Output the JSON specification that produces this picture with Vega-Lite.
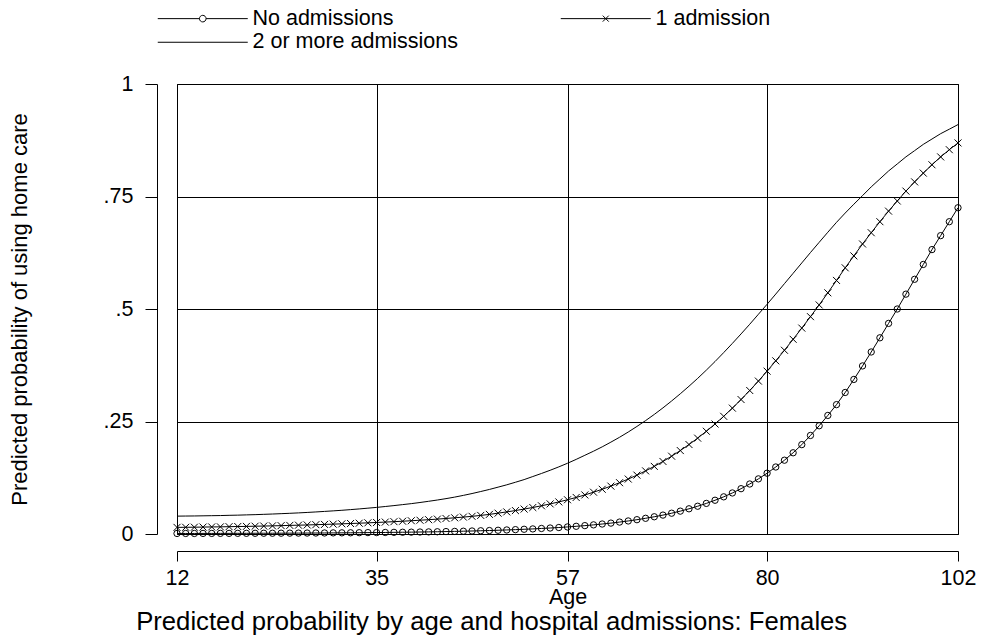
{
"$schema": "https://vega.github.io/schema/vega-lite/v6.json",
"width": 781, "height": 450,
"autosize": "none",
"padding": {"left": 177, "top": 84, "right": 24, "bottom": 108},
"background": "white",
"title": {"text": "Predicted probability by age and hospital admissions: Females", "orient": "bottom", "frame": "bounds", "anchor": "middle", "dx": -53, "font": "Liberation Sans", "fontSize": 25.7, "fontWeight": "normal", "color": "black", "offset": 2},
"data": {"values": [
{"age":12,"series":"No admissions","p":0.0012},{"age":13,"series":"No admissions","p":0.0012},{"age":14,"series":"No admissions","p":0.0012},{"age":15,"series":"No admissions","p":0.0013},{"age":16,"series":"No admissions","p":0.0013},{"age":17,"series":"No admissions","p":0.0014},{"age":18,"series":"No admissions","p":0.0014},{"age":19,"series":"No admissions","p":0.0015},{"age":20,"series":"No admissions","p":0.0015},{"age":21,"series":"No admissions","p":0.0016},
{"age":22,"series":"No admissions","p":0.0017},{"age":23,"series":"No admissions","p":0.0017},{"age":24,"series":"No admissions","p":0.0018},{"age":25,"series":"No admissions","p":0.0019},{"age":26,"series":"No admissions","p":0.0020},{"age":27,"series":"No admissions","p":0.0021},{"age":28,"series":"No admissions","p":0.0022},{"age":29,"series":"No admissions","p":0.0023},{"age":30,"series":"No admissions","p":0.0025},{"age":31,"series":"No admissions","p":0.0026},
{"age":32,"series":"No admissions","p":0.0027},{"age":33,"series":"No admissions","p":0.0029},{"age":34,"series":"No admissions","p":0.0031},{"age":35,"series":"No admissions","p":0.0032},{"age":36,"series":"No admissions","p":0.0034},{"age":37,"series":"No admissions","p":0.0037},{"age":38,"series":"No admissions","p":0.0039},{"age":39,"series":"No admissions","p":0.0041},{"age":40,"series":"No admissions","p":0.0044},{"age":41,"series":"No admissions","p":0.0047},
{"age":42,"series":"No admissions","p":0.0050},{"age":43,"series":"No admissions","p":0.0054},{"age":44,"series":"No admissions","p":0.0058},{"age":45,"series":"No admissions","p":0.0062},{"age":46,"series":"No admissions","p":0.0067},{"age":47,"series":"No admissions","p":0.0072},{"age":48,"series":"No admissions","p":0.0077},{"age":49,"series":"No admissions","p":0.0083},{"age":50,"series":"No admissions","p":0.0090},{"age":51,"series":"No admissions","p":0.0097},
{"age":52,"series":"No admissions","p":0.0105},{"age":53,"series":"No admissions","p":0.0113},{"age":54,"series":"No admissions","p":0.0123},{"age":55,"series":"No admissions","p":0.0133},{"age":56,"series":"No admissions","p":0.0144},{"age":57,"series":"No admissions","p":0.0157},{"age":58,"series":"No admissions","p":0.0171},{"age":59,"series":"No admissions","p":0.0186},{"age":60,"series":"No admissions","p":0.0203},{"age":61,"series":"No admissions","p":0.0222},
{"age":62,"series":"No admissions","p":0.0242},{"age":63,"series":"No admissions","p":0.0265},{"age":64,"series":"No admissions","p":0.0290},{"age":65,"series":"No admissions","p":0.0318},{"age":66,"series":"No admissions","p":0.0349},{"age":67,"series":"No admissions","p":0.0383},{"age":68,"series":"No admissions","p":0.0420},{"age":69,"series":"No admissions","p":0.0462},{"age":70,"series":"No admissions","p":0.0508},{"age":71,"series":"No admissions","p":0.0560},
{"age":72,"series":"No admissions","p":0.0617},{"age":73,"series":"No admissions","p":0.0680},{"age":74,"series":"No admissions","p":0.0750},{"age":75,"series":"No admissions","p":0.0826},{"age":76,"series":"No admissions","p":0.0912},{"age":77,"series":"No admissions","p":0.1007},{"age":78,"series":"No admissions","p":0.1111},{"age":79,"series":"No admissions","p":0.1225},{"age":80,"series":"No admissions","p":0.1351},{"age":81,"series":"No admissions","p":0.1489},
{"age":82,"series":"No admissions","p":0.1640},{"age":83,"series":"No admissions","p":0.1805},{"age":84,"series":"No admissions","p":0.1986},{"age":85,"series":"No admissions","p":0.2190},{"age":86,"series":"No admissions","p":0.2405},{"age":87,"series":"No admissions","p":0.2635},{"age":88,"series":"No admissions","p":0.2875},{"age":89,"series":"No admissions","p":0.3145},{"age":90,"series":"No admissions","p":0.3435},{"age":91,"series":"No admissions","p":0.3735},
{"age":92,"series":"No admissions","p":0.4045},{"age":93,"series":"No admissions","p":0.4360},{"age":94,"series":"No admissions","p":0.4680},{"age":95,"series":"No admissions","p":0.5000},{"age":96,"series":"No admissions","p":0.5330},{"age":97,"series":"No admissions","p":0.5660},{"age":98,"series":"No admissions","p":0.5990},{"age":99,"series":"No admissions","p":0.6320},{"age":100,"series":"No admissions","p":0.6630},{"age":101,"series":"No admissions","p":0.6940},
{"age":102,"series":"No admissions","p":0.7250},
{"age":12,"series":"1 admission","p":0.0147},{"age":13,"series":"1 admission","p":0.0149},{"age":14,"series":"1 admission","p":0.0151},{"age":15,"series":"1 admission","p":0.0154},{"age":16,"series":"1 admission","p":0.0157},{"age":17,"series":"1 admission","p":0.0159},{"age":18,"series":"1 admission","p":0.0163},{"age":19,"series":"1 admission","p":0.0166},{"age":20,"series":"1 admission","p":0.0169},{"age":21,"series":"1 admission","p":0.0173},
{"age":22,"series":"1 admission","p":0.0177},{"age":23,"series":"1 admission","p":0.0181},{"age":24,"series":"1 admission","p":0.0186},{"age":25,"series":"1 admission","p":0.0191},{"age":26,"series":"1 admission","p":0.0196},{"age":27,"series":"1 admission","p":0.0201},{"age":28,"series":"1 admission","p":0.0207},{"age":29,"series":"1 admission","p":0.0213},{"age":30,"series":"1 admission","p":0.0219},{"age":31,"series":"1 admission","p":0.0226},
{"age":32,"series":"1 admission","p":0.0233},{"age":33,"series":"1 admission","p":0.0240},{"age":34,"series":"1 admission","p":0.0248},{"age":35,"series":"1 admission","p":0.0256},{"age":36,"series":"1 admission","p":0.0265},{"age":37,"series":"1 admission","p":0.0274},{"age":38,"series":"1 admission","p":0.0284},{"age":39,"series":"1 admission","p":0.0295},{"age":40,"series":"1 admission","p":0.0306},{"age":41,"series":"1 admission","p":0.0318},
{"age":42,"series":"1 admission","p":0.0331},{"age":43,"series":"1 admission","p":0.0345},{"age":44,"series":"1 admission","p":0.0360},{"age":45,"series":"1 admission","p":0.0376},{"age":46,"series":"1 admission","p":0.0393},{"age":47,"series":"1 admission","p":0.0413},{"age":48,"series":"1 admission","p":0.0436},{"age":49,"series":"1 admission","p":0.0463},{"age":50,"series":"1 admission","p":0.0491},{"age":51,"series":"1 admission","p":0.0521},
{"age":52,"series":"1 admission","p":0.0554},{"age":53,"series":"1 admission","p":0.0589},{"age":54,"series":"1 admission","p":0.0627},{"age":55,"series":"1 admission","p":0.0669},{"age":56,"series":"1 admission","p":0.0713},{"age":57,"series":"1 admission","p":0.0761},{"age":58,"series":"1 admission","p":0.0812},{"age":59,"series":"1 admission","p":0.0868},{"age":60,"series":"1 admission","p":0.0929},{"age":61,"series":"1 admission","p":0.0994},
{"age":62,"series":"1 admission","p":0.1064},{"age":63,"series":"1 admission","p":0.1140},{"age":64,"series":"1 admission","p":0.1221},{"age":65,"series":"1 admission","p":0.1308},{"age":66,"series":"1 admission","p":0.1403},{"age":67,"series":"1 admission","p":0.1503},{"age":68,"series":"1 admission","p":0.1612},{"age":69,"series":"1 admission","p":0.1729},{"age":70,"series":"1 admission","p":0.1854},{"age":71,"series":"1 admission","p":0.1988},
{"age":72,"series":"1 admission","p":0.2130},{"age":73,"series":"1 admission","p":0.2283},{"age":74,"series":"1 admission","p":0.2444},{"age":75,"series":"1 admission","p":0.2615},{"age":76,"series":"1 admission","p":0.2797},{"age":77,"series":"1 admission","p":0.2988},{"age":78,"series":"1 admission","p":0.3189},{"age":79,"series":"1 admission","p":0.3398},{"age":80,"series":"1 admission","p":0.3619},{"age":81,"series":"1 admission","p":0.3848},
{"age":82,"series":"1 admission","p":0.4083},{"age":83,"series":"1 admission","p":0.4327},{"age":84,"series":"1 admission","p":0.4576},{"age":85,"series":"1 admission","p":0.4830},{"age":86,"series":"1 admission","p":0.5090},{"age":87,"series":"1 admission","p":0.5360},{"age":88,"series":"1 admission","p":0.5635},{"age":89,"series":"1 admission","p":0.5915},{"age":90,"series":"1 admission","p":0.6180},{"age":91,"series":"1 admission","p":0.6445},
{"age":92,"series":"1 admission","p":0.6695},{"age":93,"series":"1 admission","p":0.6940},{"age":94,"series":"1 admission","p":0.7175},{"age":95,"series":"1 admission","p":0.7400},{"age":96,"series":"1 admission","p":0.7620},{"age":97,"series":"1 admission","p":0.7825},{"age":98,"series":"1 admission","p":0.8020},{"age":99,"series":"1 admission","p":0.8205},{"age":100,"series":"1 admission","p":0.8380},{"age":101,"series":"1 admission","p":0.8540},
{"age":102,"series":"1 admission","p":0.8690},
{"age":12,"series":"2 or more admissions","p":0.0397},{"age":13,"series":"2 or more admissions","p":0.0399},{"age":14,"series":"2 or more admissions","p":0.0401},{"age":15,"series":"2 or more admissions","p":0.0404},{"age":16,"series":"2 or more admissions","p":0.0407},{"age":17,"series":"2 or more admissions","p":0.0410},{"age":18,"series":"2 or more admissions","p":0.0415},{"age":19,"series":"2 or more admissions","p":0.0419},{"age":20,"series":"2 or more admissions","p":0.0425},{"age":21,"series":"2 or more admissions","p":0.0430},
{"age":22,"series":"2 or more admissions","p":0.0437},{"age":23,"series":"2 or more admissions","p":0.0444},{"age":24,"series":"2 or more admissions","p":0.0452},{"age":25,"series":"2 or more admissions","p":0.0460},{"age":26,"series":"2 or more admissions","p":0.0469},{"age":27,"series":"2 or more admissions","p":0.0479},{"age":28,"series":"2 or more admissions","p":0.0490},{"age":29,"series":"2 or more admissions","p":0.0502},{"age":30,"series":"2 or more admissions","p":0.0514},{"age":31,"series":"2 or more admissions","p":0.0527},
{"age":32,"series":"2 or more admissions","p":0.0542},{"age":33,"series":"2 or more admissions","p":0.0557},{"age":34,"series":"2 or more admissions","p":0.0574},{"age":35,"series":"2 or more admissions","p":0.0591},{"age":36,"series":"2 or more admissions","p":0.0611},{"age":37,"series":"2 or more admissions","p":0.0631},{"age":38,"series":"2 or more admissions","p":0.0653},{"age":39,"series":"2 or more admissions","p":0.0675},{"age":40,"series":"2 or more admissions","p":0.0700},{"age":41,"series":"2 or more admissions","p":0.0727},
{"age":42,"series":"2 or more admissions","p":0.0755},{"age":43,"series":"2 or more admissions","p":0.0786},{"age":44,"series":"2 or more admissions","p":0.0820},{"age":45,"series":"2 or more admissions","p":0.0858},{"age":46,"series":"2 or more admissions","p":0.0899},{"age":47,"series":"2 or more admissions","p":0.0944},{"age":48,"series":"2 or more admissions","p":0.0990},{"age":49,"series":"2 or more admissions","p":0.1041},{"age":50,"series":"2 or more admissions","p":0.1093},{"age":51,"series":"2 or more admissions","p":0.1150},
{"age":52,"series":"2 or more admissions","p":0.1209},{"age":53,"series":"2 or more admissions","p":0.1277},{"age":54,"series":"2 or more admissions","p":0.1345},{"age":55,"series":"2 or more admissions","p":0.1416},{"age":56,"series":"2 or more admissions","p":0.1492},{"age":57,"series":"2 or more admissions","p":0.1572},{"age":58,"series":"2 or more admissions","p":0.1658},{"age":59,"series":"2 or more admissions","p":0.1749},{"age":60,"series":"2 or more admissions","p":0.1840},{"age":61,"series":"2 or more admissions","p":0.1937},
{"age":62,"series":"2 or more admissions","p":0.2041},{"age":63,"series":"2 or more admissions","p":0.2150},{"age":64,"series":"2 or more admissions","p":0.2266},{"age":65,"series":"2 or more admissions","p":0.2390},{"age":66,"series":"2 or more admissions","p":0.2520},{"age":67,"series":"2 or more admissions","p":0.2657},{"age":68,"series":"2 or more admissions","p":0.2803},{"age":69,"series":"2 or more admissions","p":0.2956},{"age":70,"series":"2 or more admissions","p":0.3116},{"age":71,"series":"2 or more admissions","p":0.3284},
{"age":72,"series":"2 or more admissions","p":0.3458},{"age":73,"series":"2 or more admissions","p":0.3642},{"age":74,"series":"2 or more admissions","p":0.3832},{"age":75,"series":"2 or more admissions","p":0.4031},{"age":76,"series":"2 or more admissions","p":0.4236},{"age":77,"series":"2 or more admissions","p":0.4446},{"age":78,"series":"2 or more admissions","p":0.4661},{"age":79,"series":"2 or more admissions","p":0.4883},{"age":80,"series":"2 or more admissions","p":0.5105},{"age":81,"series":"2 or more admissions","p":0.5332},
{"age":82,"series":"2 or more admissions","p":0.5563},{"age":83,"series":"2 or more admissions","p":0.5793},{"age":84,"series":"2 or more admissions","p":0.6024},{"age":85,"series":"2 or more admissions","p":0.6255},{"age":86,"series":"2 or more admissions","p":0.6481},{"age":87,"series":"2 or more admissions","p":0.6706},{"age":88,"series":"2 or more admissions","p":0.6926},{"age":89,"series":"2 or more admissions","p":0.7132},{"age":90,"series":"2 or more admissions","p":0.7329},{"age":91,"series":"2 or more admissions","p":0.7520},
{"age":92,"series":"2 or more admissions","p":0.7714},{"age":93,"series":"2 or more admissions","p":0.7890},{"age":94,"series":"2 or more admissions","p":0.8067},{"age":95,"series":"2 or more admissions","p":0.8223},{"age":96,"series":"2 or more admissions","p":0.8381},{"age":97,"series":"2 or more admissions","p":0.8519},{"age":98,"series":"2 or more admissions","p":0.8658},{"age":99,"series":"2 or more admissions","p":0.8777},{"age":100,"series":"2 or more admissions","p":0.8896},{"age":101,"series":"2 or more admissions","p":0.8996},
{"age":102,"series":"2 or more admissions","p":0.9098}
]},
"encoding": {
  "x": {"field": "age", "type": "quantitative", "scale": {"domain": [12, 102], "nice": false, "zero": false},
        "axis": {"values": [12, 35, 57, 80, 102], "offset": 17, "tickSize": 10, "labelPadding": 6, "labelFlush": false, "labelOverlap": false,
                 "title": "Age", "titlePadding": -2}},
  "y": {"field": "p", "type": "quantitative", "scale": {"domain": [0, 1], "nice": false, "zero": false},
        "axis": {"values": [0, 0.25, 0.5, 0.75, 1], "offset": 20, "tickSize": 12, "labelPadding": 12, "labelFlush": false, "labelOverlap": false,
                 "labelExpr": "datum.value == 0 ? '0' : datum.value == 1 ? '1' : datum.value == 0.25 ? '.25' : datum.value == 0.5 ? '.5' : '.75'",
                 "title": "Predicted probability of using home care", "titleFontSize": 22, "titlePadding": 72}}
},
"layer": [
  {"mark": {"type": "line", "color": "black", "strokeWidth": 1}, "encoding": {"detail": {"field": "series", "type": "nominal"}}},
  {"transform": [{"filter": "datum.series === 'No admissions'"}],
   "mark": {"type": "point", "shape": "circle", "filled": false, "color": "black", "size": 40, "strokeWidth": 1, "opacity": 1}},
  {"transform": [{"filter": "datum.series === '1 admission'"}],
   "mark": {"type": "point", "shape": "M-1,-1L1,1M-1,1L1,-1", "filled": false, "color": "black", "size": 49, "strokeWidth": 1, "opacity": 1}},
  {"mark": {"type": "point", "filled": false, "color": "black", "opacity": 0},
   "encoding": {"shape": {"field": "series", "type": "nominal",
      "scale": {"domain": ["No admissions", "1 admission", "2 or more admissions"],
                "range": ["M-45,0H-3.3M3.3,0H45M3.3,0A3.3,3.3,0,1,1,-3.3,0A3.3,3.3,0,1,1,3.3,0", "M-45,0H45M-3,-3L3,3M-3,3L3,-3", "M-45,0H45"]},
      "legend": {"title": null, "orient": "none", "legendX": -20, "legendY": -76.5, "direction": "horizontal", "columns": 2,
                 "columnPadding": 99, "rowPadding": 1, "symbolSize": 4, "symbolStrokeWidth": 1, "symbolStrokeColor": "black",
                 "symbolFillColor": "transparent", "symbolOpacity": 1, "symbolOffset": 35, "labelOffset": 39,
                 "labelFont": "Liberation Sans", "labelFontSize": 21.5, "labelColor": "black", "labelLimit": 0}}}}
],
"config": {
  "view": {"stroke": "black", "strokeWidth": 1},
  "axis": {"domainColor": "black", "domainWidth": 1, "tickColor": "black", "tickWidth": 1, "gridColor": "black", "gridOpacity": 1, "gridWidth": 1, "grid": true,
           "labelFont": "Liberation Sans", "labelFontSize": 21.5, "labelColor": "black",
           "titleFont": "Liberation Sans", "titleFontSize": 21.5, "titleFontWeight": "normal", "titleColor": "black"}
}
}
